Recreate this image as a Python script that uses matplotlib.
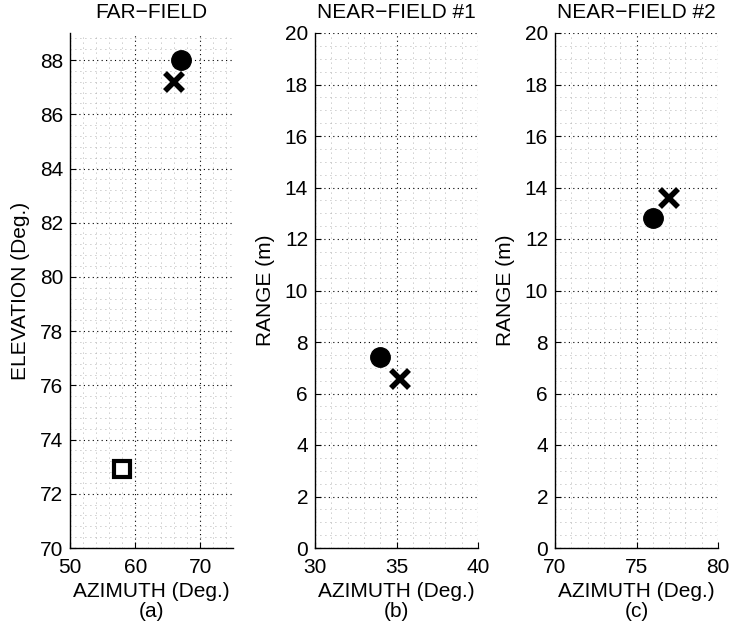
import matplotlib
matplotlib.use("Agg")
import matplotlib.pyplot as plt
from matplotlib.ticker import MultipleLocator

plt.rcParams['font.family'] = ['Liberation Sans', 'DejaVu Sans']
plt.rcParams['font.size'] = 15

# panel (a) far-field: azimuth / elevation
ff_circle = (67.0, 88.0)
ff_cross = (66.0, 87.2)
ff_square = (58.0, 72.9)

# panel (b) near-field #1: azimuth / range
nf1_circle = (34.0, 7.4)
nf1_cross = (35.2, 6.55)

# panel (c) near-field #2
nf2_circle = (76.0, 12.8)
nf2_cross = (77.0, 13.6)

titles = ["FAR\u2212FIELD", "NEAR\u2212FIELD #1", "NEAR\u2212FIELD #2"]
xlabels = ["AZIMUTH (Deg.)\n(a)", "AZIMUTH (Deg.)\n(b)", "AZIMUTH (Deg.)\n(c)"]
ylabels = ["ELEVATION (Deg.)", "RANGE (m)", "RANGE (m)"]

fig = plt.figure(figsize=(7.3, 6.35), dpi=100)
lefts = [70 / 730, 315 / 730, 555 / 730]
bottom = 1 - 548 / 635
height = 515 / 635
width = 163 / 730
axes = [fig.add_axes([l, bottom, width, height]) for l in lefts]


def style(ax, xlim, ylim, xmaj, xmin, ymaj, ymin):
    ax.set_xlim(*xlim)
    ax.set_ylim(*ylim)
    ax.xaxis.set_major_locator(MultipleLocator(xmaj))
    ax.xaxis.set_minor_locator(MultipleLocator(xmin))
    ax.yaxis.set_major_locator(MultipleLocator(ymaj))
    ax.yaxis.set_minor_locator(MultipleLocator(ymin))
    ax.grid(which='major', color='black', linestyle=(0, (1, 3)), linewidth=0.8)
    ax.grid(which='minor', color='#999999', linestyle=(0, (1, 5)), linewidth=0.6)
    ax.set_axisbelow(True)
    for s in ['top', 'right']:
        ax.spines[s].set_visible(False)
    ax.spines['left'].set_linewidth(1.0)
    ax.spines['bottom'].set_linewidth(1.0)
    ax.tick_params(which='major', direction='in', length=4, width=0.8)
    ax.tick_params(axis='x', which='major', pad=7)
    ax.tick_params(axis='y', which='major', pad=5)
    ax.tick_params(which='minor', length=0)


style(axes[0], (50, 75), (70, 89), 10, 2, 2, 0.4)
style(axes[1], (30, 40), (0, 20), 5, 1, 2, 0.5)
style(axes[2], (70, 80), (0, 20), 5, 1, 2, 0.5)

circ = dict(marker='o', color='black', markersize=14, linestyle='none')
cross = dict(marker='x', color='black', markersize=13, markeredgewidth=4, linestyle='none')

axes[0].plot(*ff_circle, **circ)
axes[0].plot(*ff_cross, **cross)
axes[0].plot(*ff_square, marker='s', markersize=11, markeredgewidth=3,
             markerfacecolor='white', markeredgecolor='black', linestyle='none')
axes[1].plot(*nf1_circle, **circ)
axes[1].plot(*nf1_cross, **cross)
axes[2].plot(*nf2_circle, **circ)
axes[2].plot(*nf2_cross, **cross)

for ax, t, xl, yl in zip(axes, titles, xlabels, ylabels):
    ax.set_title(t, fontsize=15, pad=11)
    ax.set_xlabel(xl, fontsize=15, linespacing=1.05, labelpad=4)
    ax.set_ylabel(yl, fontsize=15, labelpad=7)

fig.savefig("out.png", dpi=100)
